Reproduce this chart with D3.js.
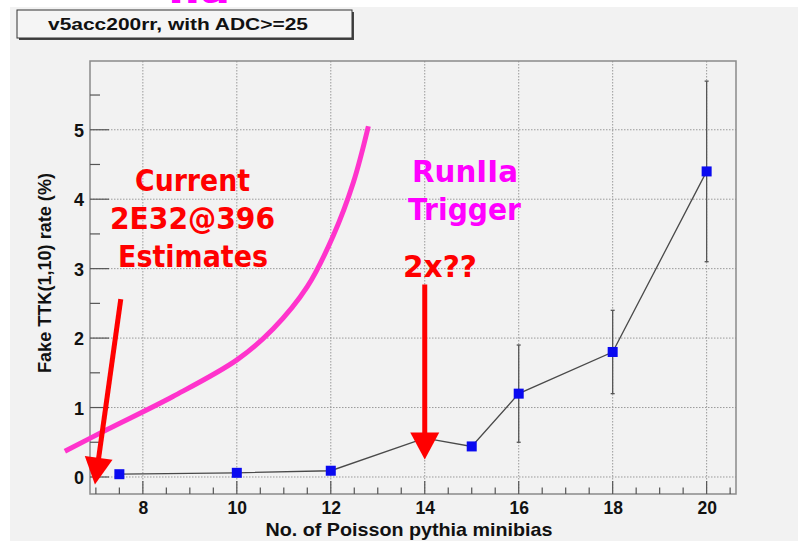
<!DOCTYPE html>
<html>
<head>
<meta charset="utf-8">
<script src="https://cdn.jsdelivr.net/npm/d3@7"></script>
<style>
  html, body { margin: 0; padding: 0; background: #ffffff; }
  svg { display: block; }
</style>
</head>
<body>
<svg id="chart" width="798" height="541"></svg>
<script>
// Fake TTK(1,10) rate vs. number of Poisson pythia minibias events
const minibias = [7.5, 10, 12, 14, 15, 16, 18, 20];
const fakeRate = [0.04, 0.06, 0.09, 0.56, 0.44, 1.2, 1.8, 4.4];
const rateErr  = [0.02, 0.02, 0.03, 0.05, 0.04, 0.7, 0.6, 1.3];

const xTicks = [8, 10, 12, 14, 16, 18, 20];
const yTicks = [0, 1, 2, 3, 4, 5];

// Hand-drawn overlay: projected rate curve (in axis units)
const curveX = [6.34, 7.23, 8.64, 10.01, 10.77, 11.50, 12.05, 12.48, 12.80];
const curveY = [0.37, 0.68, 1.16, 1.69, 2.13, 2.74, 3.47, 4.24, 5.05];

// Overlay arrows: [x0, y0, x1, y1] in axis units (tail -> tip)
const arrowEstimate = [7.53, 2.56, 6.98, -0.11];
const arrowTrigger  = [14, 2.77, 14, 0.25];

const svg = d3.select("#chart");
const W = 798, H = 541;

// canvas background
svg.append("rect").attr("x", 10).attr("y", 7).attr("width", W - 10).attr("height", H - 7)
  .attr("fill", "#f2f2f2");

const frame = { left: 90, right: 736, top: 61, bottom: 494 };
const x = d3.scaleLinear().domain([6.875, 20.625]).range([frame.left, frame.right]);
const y = d3.scaleLinear().domain([-0.245, 5.99]).range([frame.bottom, frame.top]);

const g = svg.append("g");

// dotted grid
g.selectAll("line.gx").data(xTicks).join("line")
  .attr("x1", d => x(d)).attr("x2", d => x(d))
  .attr("y1", frame.top).attr("y2", frame.bottom)
  .attr("stroke", "#9a9a9a").attr("stroke-width", 1).attr("stroke-dasharray", "1.5,1.5");
g.selectAll("line.gy").data(yTicks).join("line")
  .attr("x1", frame.left).attr("x2", frame.right)
  .attr("y1", d => y(d)).attr("y2", d => y(d))
  .attr("stroke", "#9a9a9a").attr("stroke-width", 1).attr("stroke-dasharray", "1.5,1.5");

// frame
g.append("rect").attr("x", frame.left).attr("y", frame.top)
  .attr("width", frame.right - frame.left).attr("height", frame.bottom - frame.top)
  .attr("fill", "none").attr("stroke", "#8a8a8a").attr("stroke-width", 1.5);

// x axis ticks pointing inward
const xMinor = d3.range(7, 20.51, 0.5);
g.selectAll("line.tx").data(xMinor).join("line")
  .attr("x1", d => x(d)).attr("x2", d => x(d))
  .attr("y1", frame.bottom)
  .attr("y2", d => frame.bottom - (xTicks.includes(d) ? 13 : 6.5))
  .attr("stroke", "#555").attr("stroke-width", 1.2);
const xAxis = d3.axisBottom(x).tickValues(xTicks).tickSize(0).tickPadding(0).tickFormat(d3.format("d"));
const xa = svg.append("g").attr("transform", `translate(0,${frame.bottom})`).call(xAxis);
xa.select(".domain").remove();
xa.selectAll("text").attr("y", 20).attr("dy", 0)
  .attr("font-family", "'Liberation Sans', Arial, sans-serif").attr("font-weight", "bold")
  .attr("font-size", 17.5).attr("fill", "#111");

// y axis ticks pointing inward
const yMinor = d3.range(0, 5.51, 0.5);
g.selectAll("line.ty").data(yMinor).join("line")
  .attr("x1", frame.left)
  .attr("x2", d => frame.left + (Number.isInteger(d) ? 19 : 10))
  .attr("y1", d => y(d)).attr("y2", d => y(d))
  .attr("stroke", "#555").attr("stroke-width", 1.2);
const yAxis = d3.axisLeft(y).tickValues(yTicks).tickSize(0).tickPadding(0).tickFormat(d3.format("d"));
const ya = svg.append("g").attr("transform", `translate(${frame.left},0)`).call(yAxis);
ya.select(".domain").remove();
ya.selectAll("text").attr("x", -6).attr("dy", "0.36em")
  .attr("font-family", "'Liberation Sans', Arial, sans-serif").attr("font-weight", "bold")
  .attr("font-size", 18).attr("fill", "#111");

// axis titles
svg.append("text").attr("x", 409).attr("y", 536).attr("text-anchor", "middle")
  .attr("font-family", "'Liberation Sans', Arial, sans-serif").attr("font-weight", "bold")
  .attr("font-size", 18.5).attr("fill", "#111")
  .attr("textLength", 287).attr("lengthAdjust", "spacingAndGlyphs")
  .text("No. of Poisson pythia minibias");
svg.append("text").attr("transform", "translate(51,273) rotate(-90)").attr("text-anchor", "middle")
  .attr("font-family", "'Liberation Sans', Arial, sans-serif").attr("font-weight", "bold")
  .attr("font-size", 18).attr("fill", "#111")
  .attr("textLength", 200).attr("lengthAdjust", "spacingAndGlyphs")
  .text("Fake TTK(1,10) rate (%)");

// data: error bars, connecting line, markers
const pts = minibias.map((v, i) => ({ x: v, y: fakeRate[i], e: rateErr[i] }));
const eb = g.selectAll("g.eb").data(pts).join("g");
eb.append("line")
  .attr("x1", d => x(d.x)).attr("x2", d => x(d.x))
  .attr("y1", d => y(d.y + d.e)).attr("y2", d => y(d.y - d.e))
  .attr("stroke", "#555").attr("stroke-width", 1.3);
eb.append("line")
  .attr("x1", d => x(d.x) - 2).attr("x2", d => x(d.x) + 2)
  .attr("y1", d => y(d.y + d.e)).attr("y2", d => y(d.y + d.e))
  .attr("stroke", "#555").attr("stroke-width", 1.3);
eb.append("line")
  .attr("x1", d => x(d.x) - 2).attr("x2", d => x(d.x) + 2)
  .attr("y1", d => y(d.y - d.e)).attr("y2", d => y(d.y - d.e))
  .attr("stroke", "#555").attr("stroke-width", 1.3);

g.append("path").datum(pts)
  .attr("d", d3.line().x(d => x(d.x)).y(d => y(d.y)))
  .attr("fill", "none").attr("stroke", "#4a4a4a").attr("stroke-width", 1.3);

g.selectAll("rect.pt").data(pts).join("rect")
  .attr("x", d => x(d.x) - 5).attr("y", d => y(d.y) - 5)
  .attr("width", 10).attr("height", 10).attr("fill", "#0a0af0");

// title box
svg.append("rect").attr("x", 19).attr("y", 12).attr("width", 335).attr("height", 28).attr("fill", "#444");
svg.append("rect").attr("x", 17).attr("y", 10).attr("width", 335).attr("height", 28)
  .attr("fill", "#f5f5f5").attr("stroke", "#333").attr("stroke-width", 1);
svg.append("text").attr("x", 178).attr("y", 30).attr("text-anchor", "middle")
  .attr("font-family", "'Liberation Sans', Arial, sans-serif").attr("font-weight", "bold")
  .attr("font-size", 17).attr("fill", "#111")
  .attr("textLength", 260).attr("lengthAdjust", "spacingAndGlyphs")
  .text("v5acc200rr, with ADC>=25");

// overlay curve
const curvePts = curveX.map((v, i) => [x(v), y(curveY[i])]);
svg.append("path").attr("d", d3.line().curve(d3.curveCatmullRom)(curvePts))
  .attr("fill", "none").attr("stroke", "#ff33cc").attr("stroke-width", 5);

// overlay arrows
function arrow(a, headLen, headW) {
  const x0 = x(a[0]), y0 = y(a[1]), x1 = x(a[2]), y1 = y(a[3]);
  const dx = x1 - x0, dy = y1 - y0, L = Math.hypot(dx, dy);
  const ux = dx / L, uy = dy / L, px = -uy, py = ux;
  const bx = x1 - ux * headLen, by = y1 - uy * headLen;
  svg.append("line").attr("x1", x0).attr("y1", y0).attr("x2", bx + ux * 2).attr("y2", by + uy * 2)
    .attr("stroke", "#ff0000").attr("stroke-width", 5);
  svg.append("path")
    .attr("d", `M${x1},${y1}L${bx + px * headW / 2},${by + py * headW / 2}L${bx - px * headW / 2},${by - py * headW / 2}Z`)
    .attr("fill", "#ff0000");
}
arrow(arrowEstimate, 27, 28);
arrow(arrowTrigger, 27, 29);

// overlay labels
const handFont = "'DejaVu Sans', 'Comic Sans MS', sans-serif";
const notes = [
  { t: "Current",  cx: 192.5, by: 191, w: 115, c: "#ff0000" },
  { t: "2E32@396", cx: 192.5, by: 229, w: 165, c: "#ff0000" },
  { t: "Estimates", cx: 193, by: 267, w: 150, c: "#ff0000" },
  { t: "RunIIa",   cx: 465,   by: 182, w: 106, c: "#ff00ff" },
  { t: "Trigger",  cx: 464.5, by: 220, w: 113, c: "#ff00ff" },
  { t: "2x??",     cx: 440,   by: 277, w: 74,  c: "#ff0000" },
  { t: "IIa",      cx: 199,   by: 3,   w: 62,  c: "#ff00ff" }
];
svg.selectAll("text.note").data(notes).join("text")
  .attr("x", d => d.cx).attr("y", d => d.by).attr("text-anchor", "middle")
  .attr("font-family", handFont).attr("font-weight", "bold").attr("font-size", 31)
  .attr("fill", d => d.c)
  .attr("textLength", d => d.w).attr("lengthAdjust", "spacingAndGlyphs")
  .text(d => d.t);
</script>
</body>
</html>
